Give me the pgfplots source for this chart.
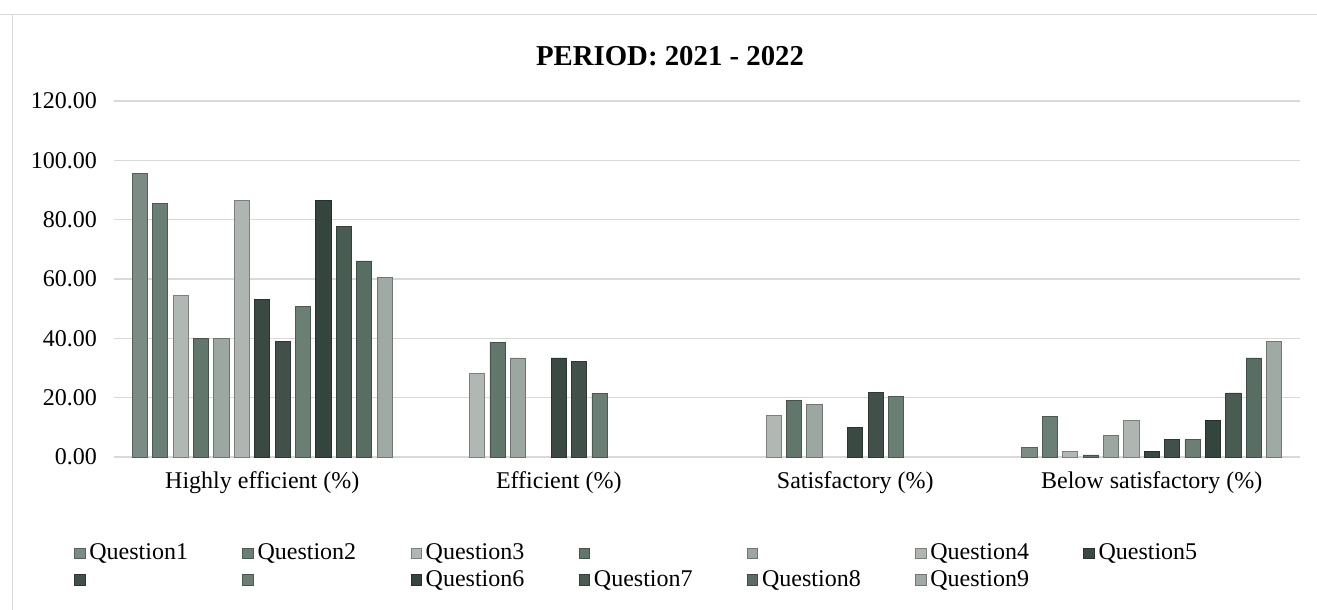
\documentclass[border=0pt]{standalone}
\usepackage{fontspec}
\setmainfont{Liberation Serif}
\usepackage{pgfplots}
\pgfplotsset{compat=1.18}
\definecolor{c1}{HTML}{7A8C83}
\definecolor{c2}{HTML}{6A7F75}
\definecolor{c3}{HTML}{B1B7B3}
\definecolor{c4}{HTML}{62776C}
\definecolor{c5}{HTML}{9CA7A1}
\definecolor{c6}{HTML}{AFB6B1}
\definecolor{c7}{HTML}{3A4A42}
\definecolor{c8}{HTML}{415048}
\definecolor{c9}{HTML}{6B7F75}
\definecolor{c10}{HTML}{33453C}
\definecolor{c11}{HTML}{485C52}
\definecolor{c12}{HTML}{586E63}
\definecolor{c13}{HTML}{A0AAA4}
\newcommand{\lgd}[1]{\makebox[74.5pt][l]{#1}}
\begin{document}
\begin{tikzpicture}
\useasboundingbox (0,0) rectangle (658.5pt,-305pt);
\draw[gray!30, line width=0.5pt] (0,-7.5pt) -- (658.5pt,-7.5pt);
\draw[gray!30, line width=0.5pt] (6pt,-7.5pt) -- (6pt,-305pt);
\node[font=\fontsize{14.4}{16}\selectfont\bfseries] at (335pt,-28pt) {PERIOD: 2021 - 2022};
\begin{axis}[
  at={(57pt,-228.5pt)}, anchor=south west,
  scale only axis, width=593pt, height=178pt,
  xmin=-0.5, xmax=3.5, ymin=0, ymax=120,
  ytick={0,20,...,120},
  xtick={0,1,2,3},
  xticklabels={Highly efficient (\%), Efficient (\%), Satisfactory (\%), Below satisfactory (\%)},
  ymajorgrids, grid style={gray!30, line width=0.6pt},
  axis line style={draw=none},
  major tick length=0pt,
  ybar, bar width=0.051,
  /pgf/number format/assume math mode=true,
  yticklabel style={/pgf/number format/fixed, /pgf/number format/fixed zerofill, /pgf/number format/precision=2, font=\fontsize{12}{14}\selectfont, xshift=-5pt},
  xticklabel style={font=\fontsize{12}{14}\selectfont, yshift=-4pt},
  legend columns=7,
  legend style={at={(-0.039,-0.22)}, anchor=north west, draw=none, fill=none, font=\fontsize{12}{13}\selectfont, row sep=0pt},
  legend image code/.code={\draw[#1, line width=0.4pt] (0pt,-2.6pt) rectangle (5.2pt,2.6pt);},
]
\addplot[fill=c1, draw=c1!70!black, bar shift=-0.4128] coordinates {(0,95.7) (3,3.2)};
\addlegendentry{\lgd{Question1}}
\addplot[fill=c2, draw=c2!70!black, bar shift=-0.344] coordinates {(0,85.5) (3,13.8)};
\addlegendentry{\lgd{Question2}}
\addplot[fill=c3, draw=c3!70!black, bar shift=-0.2752] coordinates {(0,54.5) (1,28.3) (2,14.0) (3,1.9)};
\addlegendentry{\lgd{Question3}}
\addplot[fill=c4, draw=c4!70!black, bar shift=-0.2064] coordinates {(0,40) (1,38.7) (2,19.2) (3,0.7)};
\addlegendentry{\lgd{}}
\addplot[fill=c5, draw=c5!70!black, bar shift=-0.1376] coordinates {(0,40) (1,33.4) (2,17.8) (3,7.2)};
\addlegendentry{\lgd{}}
\addplot[fill=c6, draw=c6!70!black, bar shift=-0.0688] coordinates {(0,86.6) (3,12.4)};
\addlegendentry{\lgd{Question4}}
\addplot[fill=c7, draw=c7!70!black, bar shift=0] coordinates {(0,53.1) (1,33.4) (2,10.0) (3,1.8)};
\addlegendentry{\lgd{Question5}}
\addplot[fill=c8, draw=c8!70!black, bar shift=0.0688] coordinates {(0,38.8) (1,32.1) (2,21.9) (3,5.8)};
\addlegendentry{\lgd{}}
\addplot[fill=c9, draw=c9!70!black, bar shift=0.1376] coordinates {(0,50.6) (1,21.5) (2,20.5) (3,5.8)};
\addlegendentry{\lgd{}}
\addplot[fill=c10, draw=c10!70!black, bar shift=0.2064] coordinates {(0,86.6) (3,12.4)};
\addlegendentry{\lgd{Question6}}
\addplot[fill=c11, draw=c11!70!black, bar shift=0.2752] coordinates {(0,77.7) (3,21.6)};
\addlegendentry{\lgd{Question7}}
\addplot[fill=c12, draw=c12!70!black, bar shift=0.344] coordinates {(0,66.1) (3,33.4)};
\addlegendentry{\lgd{Question8}}
\addplot[fill=c13, draw=c13!70!black, bar shift=0.4128] coordinates {(0,60.6) (3,38.8)};
\addlegendentry{\lgd{Question9}}
\end{axis}
\end{tikzpicture}
\end{document}
